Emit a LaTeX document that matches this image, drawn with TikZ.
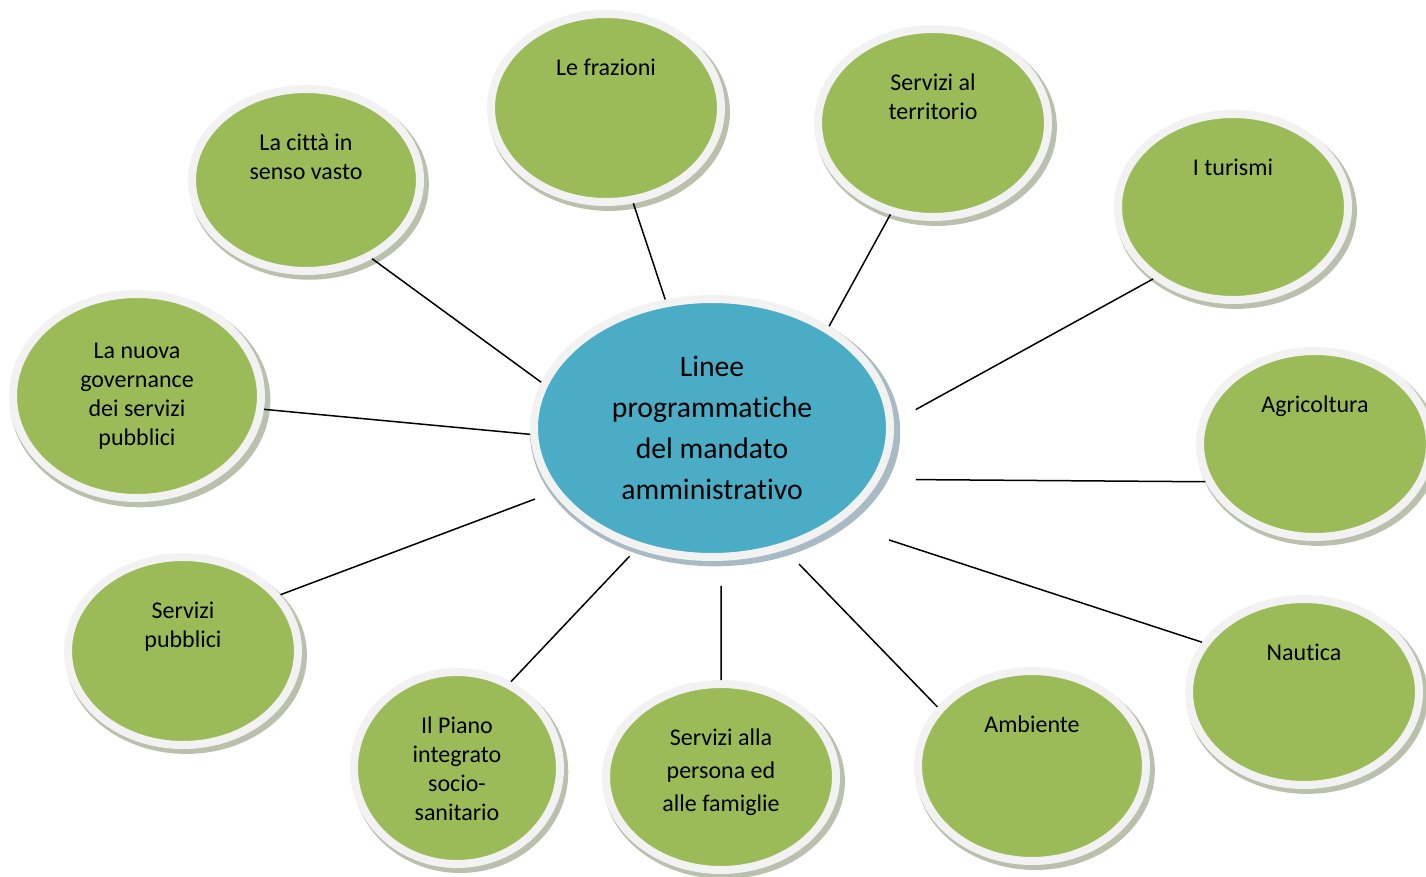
\documentclass[tikz,border=0pt]{standalone}
\usepackage{fontspec}
\setmainfont{Carlito}[Ligatures=NoCommon]
\usetikzlibrary{shapes}
\usetikzlibrary{shadows}
\usetikzlibrary{positioning}
\definecolor{leafgreen}{RGB}{155,187,89}
\definecolor{hubblue}{RGB}{75,172,198}
\definecolor{ringgray}{RGB}{242,242,242}
\definecolor{shadowg}{RGB}{140,150,115}
\definecolor{shadowb}{RGB}{110,140,155}
\tikzset{
    bubblebase/.style = {ellipse, line width=8pt, draw=ringgray, inner sep=0pt},
    mybubble/.style = {bubblebase, fill=leafgreen,
        drop shadow={shadow xshift=3pt, shadow yshift=-4pt, shadow scale=1.05, fill=shadowg, opacity=0.6}},
    myhub/.style = {bubblebase, fill=hubblue, align=center, text=black, font=\fontsize{29.7}{41}\selectfont,
        drop shadow={shadow xshift=3pt, shadow yshift=-4pt, shadow scale=1.04, fill=shadowb, opacity=0.6}},
    dims/.style 2 args = {minimum width=#1, minimum height=#2},
    bubtext/.style = {align=center, inner sep=0pt, text=black, font=\fontsize{24}{29}\selectfont},
    bubcap/.style = {label={[bubtext, below=49pt]north:{#1}}},
    bubcaplow/.style = {label={[bubtext, below=53pt]north:{#1}}},
    bubcaploose/.style = {label={[bubtext, font=\fontsize{24}{33}\selectfont, below=49pt]north:{#1}}},
    link/.style = {-, line width=1.5pt, black}
}
\begin{document}
\begin{tikzpicture}[x=1pt,y=-1pt]
\path[use as bounding box] (0,0) rectangle (1426,877);
%
\node[myhub, dims={356}{258}] at (712,428) (hub) {Linee\\programmatiche\\del mandato\\amministrativo};
%
\node[mybubble, dims={228}{182}, bubcap={La città in\\senso vasto}] at (306,180) (cit) {};
\node[mybubble, dims={230}{188}, bubcap={Le frazioni}] at (606,108) (fra) {};
\node[mybubble, dims={230}{188}, bubcap={Servizi al\\territorio}] at (933,123) (ter) {};
\node[mybubble, dims={230}{186}, bubcap={I turismi}] at (1233,207) (tur) {};
\node[mybubble, dims={230}{186}, bubcap={Agricoltura}] at (1315,444) (agr) {};
\node[mybubble, dims={230}{186}, bubcap={Nautica}] at (1304,692) (nau) {};
\node[mybubble, dims={228}{190}, bubcap={Ambiente}] at (1032,766) (amb) {};
\node[mybubble, dims={230}{186}, bubcaploose={Servizi alla\\persona ed\\alle famiglie}] at (721,777) (per) {};
\node[mybubble, dims={206}{192}, bubcap={Il Piano\\integrato\\socio-\\sanitario}] at (457,768) (pia) {};
\node[mybubble, dims={230}{188}, bubcap={Servizi\\pubblici}] at (183,651) (pub) {};
\node[mybubble, dims={248}{204}, bubcaplow={La nuova\\governance\\dei servizi\\pubblici}] at (137,396) (gov) {};
%
\draw[link] (hub.165) -- (cit.-50);
\draw[link] (hub.110) -- (fra.-74);
\draw[link] (hub.41) -- (ter.-115);
\draw[link, shorten <=25pt] (hub.2) -- (tur.-138);
\draw[link, shorten <=36pt] (hub.-17) -- (agr.199);
\draw[link, shorten <=53pt] (hub.-37) -- (nau.154);
\draw[link, shorten <=20pt] (hub.-59) -- (amb.148);
\draw[link, shorten <=25pt] (hub.-86) -- (per.90);
\draw[link, shorten <=10pt] (hub.-122) -- (pia.58);
\draw[link, shorten <=19pt] (hub.-158) -- (pub.30);
\draw[link] (hub.-178) -- (gov.-6);

\end{tikzpicture}
\end{document}
